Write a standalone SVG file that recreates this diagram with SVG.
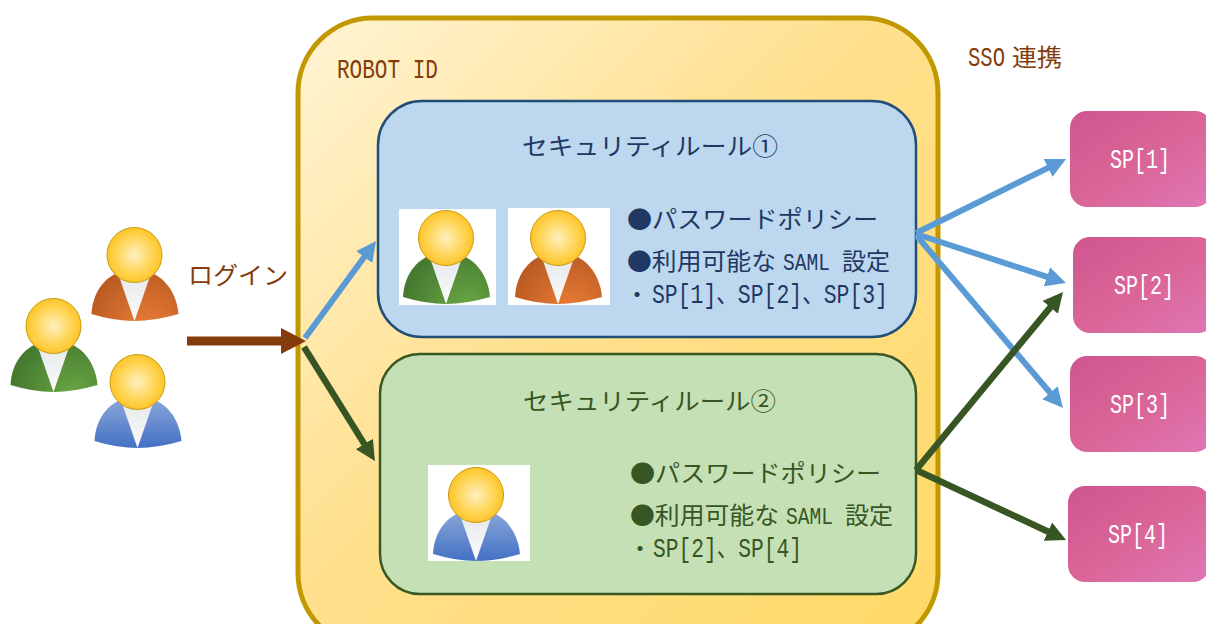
<svg xmlns="http://www.w3.org/2000/svg" width="1206" height="624" viewBox="0 0 1206 624">
<style>
text{font-family:"Noto Sans CJK JP","Liberation Sans",sans-serif;font-size:24px}
.l{font-family:"Liberation Mono","Noto Sans CJK JP",monospace;font-size:27px}
.s{font-family:"Liberation Mono",monospace;font-size:24px}
.br{fill:#843c0c}.nv{fill:#1f3864}.gr{fill:#375623}.wh{fill:#fff}
.sp{fill:url(#gp)}
.ln{fill:none;stroke-width:6}
.lg{fill:none;stroke-width:6.5}
.head{fill:url(#gh);stroke:#c99a10;stroke-width:1}
.shirt{fill:url(#gs)}
</style>
<defs>
<linearGradient id="go" x1="0" y1="0" x2="1" y2="1"><stop offset="0" stop-color="#fff4d4"/><stop offset=".45" stop-color="#ffe08e"/><stop offset="1" stop-color="#ffd966"/></linearGradient>
<linearGradient id="gp" x1="0" y1="0" x2="1" y2="1"><stop offset="0" stop-color="#cf5590"/><stop offset=".5" stop-color="#da6597"/><stop offset="1" stop-color="#e077b5"/></linearGradient>
<radialGradient id="gh" cx=".5" cy=".5" r=".55"><stop offset="0" stop-color="#fff0bf"/><stop offset=".6" stop-color="#ffd455"/><stop offset="1" stop-color="#fcc01c"/></radialGradient>
<linearGradient id="gs" x1="0" y1="0" x2="0" y2="1"><stop offset="0" stop-color="#e6e8ea"/><stop offset="1" stop-color="#fbfbfb"/></linearGradient>
<radialGradient id="bg" gradientUnits="userSpaceOnUse" cx="20" cy="70" r="62"><stop offset="0" stop-color="#6aa744"/><stop offset="1" stop-color="#457a30"/></radialGradient>
<radialGradient id="bo" gradientUnits="userSpaceOnUse" cx="12" cy="72" r="62"><stop offset="0" stop-color="#ea7c36"/><stop offset="1" stop-color="#b85a22"/></radialGradient>
<linearGradient id="bb" gradientUnits="userSpaceOnUse" x1="0" y1="20" x2="0" y2="65"><stop offset="0" stop-color="#86a3d8"/><stop offset="1" stop-color="#4472c4"/></linearGradient>
<marker id="ab" markerUnits="userSpaceOnUse" markerWidth="22" markerHeight="22" refX="1" refY="10" orient="auto" viewBox="0 0 22 22"><path d="M0,0 20,10 0,20z" fill="#5b9bd5"/></marker>
<marker id="ag" markerUnits="userSpaceOnUse" markerWidth="22" markerHeight="22" refX="1" refY="10" orient="auto" viewBox="0 0 22 22"><path d="M0,0 20,10 0,20z" fill="#375623"/></marker>
<path id="body" d="M-43,59C-42,37 -29,21 -14,17L14,17C29,21 42,37 44,59Q20,66 0,66Q-20,66 -43,59Z"/>
<g id="top"><path class="shirt" d="M-16,20 16,20 0,66z"/><circle class="head" r="27.5"/></g>
</defs>
<rect width="1206" height="624" fill="#fff"/>
<g id="robot-id">
<rect x="298" y="18" width="640" height="630" rx="75" fill="url(#go)" stroke="#c29800" stroke-width="5"/>
<text class="br l" x="337" y="78" textLength="101" lengthAdjust="spacingAndGlyphs">ROBOT ID</text>
</g>
<g id="rule-1">
<rect x="378" y="101" width="538" height="236" rx="44" fill="#bdd7ee" stroke="#1f4e79" stroke-width="2.5"/>
<text class="nv" x="522" y="155" textLength="256" lengthAdjust="spacingAndGlyphs">セキュリティルール①</text>
<rect x="399" y="209" width="97" height="96" fill="#fff"/>
<rect x="508" y="208" width="102" height="97" fill="#fff"/>
<g transform="translate(446,238)"><use href="#body" fill="url(#bg)"/><use href="#top"/></g>
<g transform="translate(558,238)"><use href="#body" fill="url(#bo)"/><use href="#top"/></g>
<text class="nv" x="627" y="228" textLength="251" lengthAdjust="spacingAndGlyphs">●パスワードポリシー</text>
<text class="nv" x="627" y="270" textLength="149" lengthAdjust="spacingAndGlyphs">●利用可能な</text>
<text class="nv s" x="783" y="270" textLength="47" lengthAdjust="spacingAndGlyphs">SAML</text>
<text class="nv" x="842" y="270" textLength="48" lengthAdjust="spacingAndGlyphs">設定</text>
<text class="nv" x="625" y="303">・</text>
<text class="nv l" x="652" y="303" textLength="236" lengthAdjust="spacingAndGlyphs">SP[1]、SP[2]、SP[3]</text>
</g>
<g id="rule-2">
<rect x="380" y="354" width="536" height="240" rx="40" fill="#c5e0b4" stroke="#385723" stroke-width="2.5"/>
<text class="gr" x="523" y="410" textLength="253" lengthAdjust="spacingAndGlyphs">セキュリティルール②</text>
<rect x="428" y="465" width="102" height="96" fill="#fff"/>
<g transform="translate(476,495)"><use href="#body" fill="url(#bb)"/><use href="#top"/></g>
<text class="gr" x="630" y="482" textLength="251" lengthAdjust="spacingAndGlyphs">●パスワードポリシー</text>
<text class="gr" x="630" y="524" textLength="149" lengthAdjust="spacingAndGlyphs">●利用可能な</text>
<text class="gr s" x="786" y="524" textLength="47" lengthAdjust="spacingAndGlyphs">SAML</text>
<text class="gr" x="845" y="524" textLength="48" lengthAdjust="spacingAndGlyphs">設定</text>
<text class="gr" x="628" y="557">・</text>
<text class="gr l" x="653" y="557" textLength="149" lengthAdjust="spacingAndGlyphs">SP[2]、SP[4]</text>
</g>
<g id="users">
<g transform="translate(134.5,255)"><use href="#body" fill="url(#bo)"/><use href="#top"/></g>
<g transform="translate(53.5,326)"><use href="#body" fill="url(#bg)"/><use href="#top"/></g>
<g transform="translate(137.5,382)"><use href="#body" fill="url(#bb)"/><use href="#top"/></g>
</g>
<text id="login" class="br" x="188" y="284" textLength="100" lengthAdjust="spacingAndGlyphs">ログイン</text>
<g id="sso"><text class="br l" x="968" y="66" textLength="37" lengthAdjust="spacingAndGlyphs">SSO</text><text class="br" x="1012" y="66" textLength="50" lengthAdjust="spacingAndGlyphs">連携</text></g>
<g id="sp1"><rect class="sp" x="1070" y="111" width="142" height="96" rx="17"/><text class="wh l" x="1110" y="168" textLength="60" lengthAdjust="spacingAndGlyphs">SP[1]</text></g>
<g id="sp2"><rect class="sp" x="1073" y="237" width="142" height="96" rx="17"/><text class="wh l" x="1114" y="294" textLength="60" lengthAdjust="spacingAndGlyphs">SP[2]</text></g>
<g id="sp3"><rect class="sp" x="1070" y="356" width="142" height="96" rx="17"/><text class="wh l" x="1110" y="413" textLength="60" lengthAdjust="spacingAndGlyphs">SP[3]</text></g>
<g id="sp4"><rect class="sp" x="1068" y="486" width="142" height="96" rx="17"/><text class="wh l" x="1108" y="543" textLength="60" lengthAdjust="spacingAndGlyphs">SP[4]</text></g>
<g id="connectors">
<path d="M187,341H283" stroke="#843c0c" stroke-width="9" fill="none"/>
<path d="M281,328 306,341 281,354z" fill="#843c0c"/>
<path class="ln" d="M305,338 364.8,256.3" stroke="#5b9bd5" marker-end="url(#ab)"/>
<path class="lg" d="M304,347 364.9,444.9" stroke="#375623" marker-end="url(#ag)"/>
<path class="ln" d="M916,233 1049,167.4" stroke="#5b9bd5" marker-end="url(#ab)"/>
<path class="ln" d="M916,234 1047.9,277.1" stroke="#5b9bd5" marker-end="url(#ab)"/>
<path class="ln" d="M916,235 1050.7,393.5" stroke="#5b9bd5" marker-end="url(#ab)"/>
<path class="lg" d="M916,470 1050.9,306.6" stroke="#375623" marker-end="url(#ag)"/>
<path class="lg" d="M916,470 1048.8,532" stroke="#375623" marker-end="url(#ag)"/>
</g>
</svg>
